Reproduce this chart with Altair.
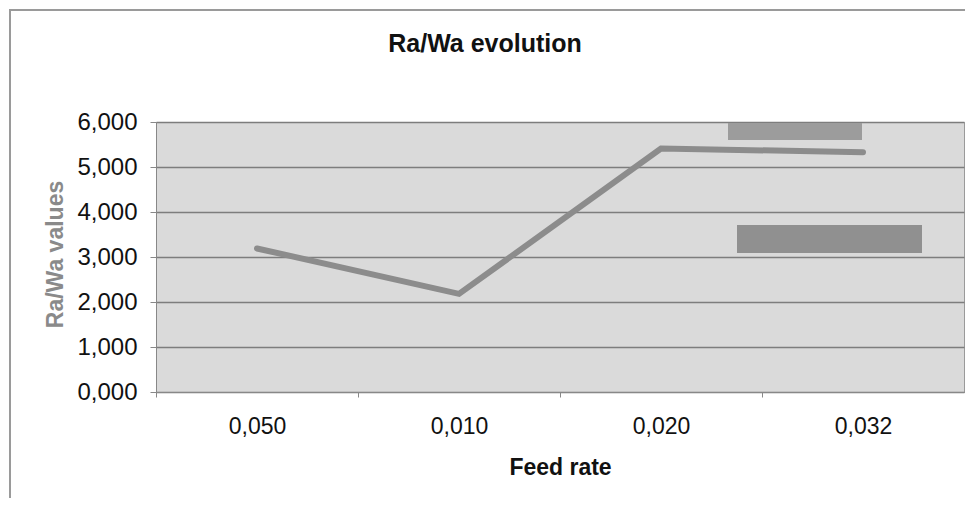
import altair as alt
import pandas as pd

feed_rates = ["0,050", "0,010", "0,020", "0,032"]
ra_wa = [3.19, 2.18, 5.41, 5.33]

df = pd.DataFrame({"feed": feed_rates, "value": ra_wa})

FONT = "Liberation Sans"

x_enc = alt.X(
    "feed:N",
    sort=feed_rates,
    scale=alt.Scale(paddingInner=0, paddingOuter=0),
    axis=alt.Axis(
        title="Feed rate",
        labelAngle=0,
        labelFont=FONT,
        labelFontSize=23,
        labelColor="#111111",
        labelPadding=18,
        tickOffset=-101,
        labelOffset=101,
        tickSize=5,
        tickColor="#888888",
        domainColor="#888888",
        titleFont=FONT,
        titleFontSize=23,
        titleFontWeight="bold",
        titleColor="#111111",
        titlePadding=18,
    ),
)

y_enc = alt.Y(
    "value:Q",
    scale=alt.Scale(domain=[0, 6], nice=False),
    axis=alt.Axis(
        title="Ra/Wa values",
        values=[0, 1, 2, 3, 4, 5, 6],
        labelExpr="replace(format(datum.value, '.3f'), '.', ',')",
        labelFont=FONT,
        labelFontSize=24,
        labelColor="#111111",
        labelPadding=13,
        tickSize=6,
        tickColor="#888888",
        domainColor="#888888",
        grid=True,
        gridColor="#7d7d7d",
        gridWidth=1.5,
        titleFont=FONT,
        titleFontSize=23,
        titleFontWeight="bold",
        titleColor="#8a8a8a",
        titleX=-101,
        titleY=132,
        titleAngle=-90,
        titleBaseline="middle",
    ),
)

line = alt.Chart(df).mark_line(color="#8c8c8c", strokeWidth=6, strokeCap="round").encode(
    x=x_enc, y=y_enc
)

box1 = alt.Chart(df).mark_rect(color="#9c9c9c").encode(
    x=alt.value(572), x2=alt.value(706), y=alt.value(1), y2=alt.value(18)
)
box2 = alt.Chart(df).mark_rect(color="#909090").encode(
    x=alt.value(581), x2=alt.value(766), y=alt.value(103), y2=alt.value(131)
)
frame = alt.Chart(df).mark_rect(fill=None, stroke="#9a9a9a", strokeWidth=2).encode(
    x=alt.value(-146), x2=alt.value(820), y=alt.value(-112), y2=alt.value(400)
)

chart = alt.layer(frame, line, box1, box2).properties(
    width=808,
    height=270,
    background="#ffffff",
    title=alt.TitleParams(
        "Ra/Wa evolution",
        font=FONT,
        fontSize=25,
        fontWeight="bold",
        color="#111111",
        dx=-75,
        dy=48,
        offset=0,
    ),
    autosize=alt.AutoSizeParams(type="none"),
    padding={"left": 148, "top": 114, "right": 1, "bottom": 106},
).configure_view(
    fill="#dadada", stroke="#9a9a9a"
)

chart.save("out.html", embed_options={"renderer": "svg", "actions": False})
